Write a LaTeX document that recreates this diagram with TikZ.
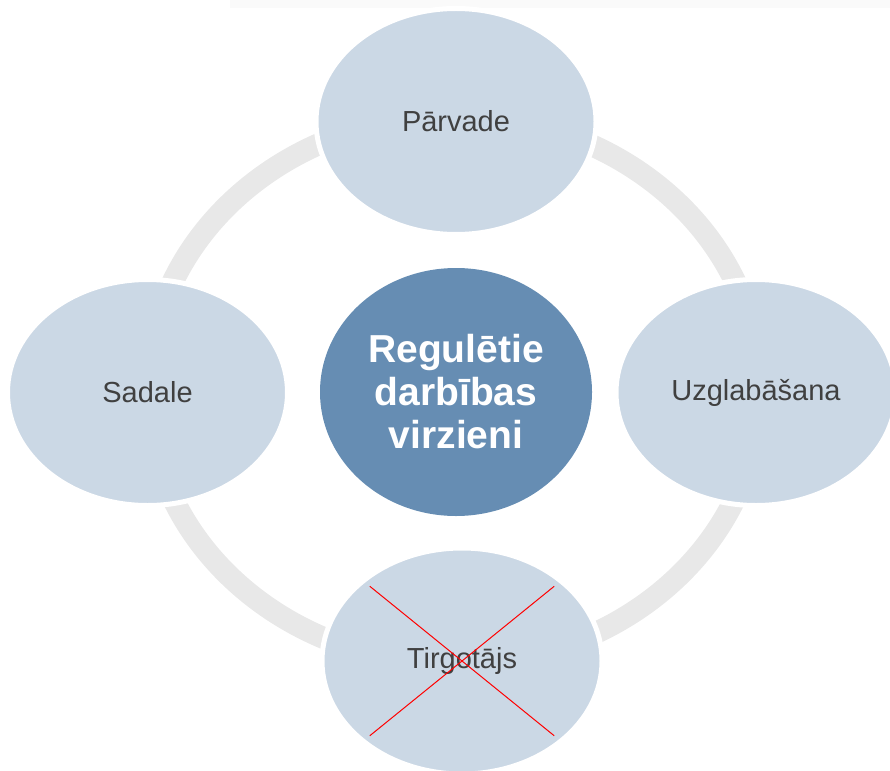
\documentclass[tikz,border=0pt]{standalone}
\usepackage{fontspec}
\setmainfont{Liberation Sans}
\usetikzlibrary{shapes.geometric}
\definecolor{gaisszils}{HTML}{CBD8E5}
\definecolor{tumsszils}{HTML}{668DB3}
\definecolor{gredzens}{HTML}{E8E8E8}
\definecolor{teksts}{HTML}{404040}

\begin{document}
\begin{tikzpicture}[x=1pt,y=-1pt,
		virziens/.style={ellipse, fill=gaisszils, draw=white, line width=5pt, text=teksts,
			font=\fontsize{29}{34}\selectfont, minimum width=280pt, minimum height=226pt, inner sep=0pt},
		centrs/.style={ellipse, fill=tumsszils, text=white, align=center,
			font=\fontsize{39}{43}\selectfont\bfseries, minimum width=272pt, minimum height=248pt, inner sep=0pt},
		krusts/.style={red, line width=1pt, shorten <=11pt, shorten >=11pt}]
				\useasboundingbox (0,0) rectangle (890,770);
				\fill [black!2] (230,0) rectangle (890,8);
				
				% gredzens aiz elipsem
				\draw [gredzens, line width=22pt] (454,390) ellipse [x radius=306, y radius=274];
				
				\node [virziens] (parvade) at (456,121.5) {Pārvade};
				\node [virziens] (uzglabasana) at (756,392.5) {Uzglabāšana};
				\node [virziens] (tirgotajs) at (462,661) {Tirgotājs};
				\node [virziens] (sadale) at (147.5,392.5) {Sadale};
				
				\node [centrs] (regul) at (456,392) {Regulētie\\darbības\\virzieni};
				
				\draw [krusts] (tirgotajs.north west) -- (tirgotajs.south east);
				\draw [krusts] (tirgotajs.south west) -- (tirgotajs.north east);
\end{tikzpicture}
\end{document}
